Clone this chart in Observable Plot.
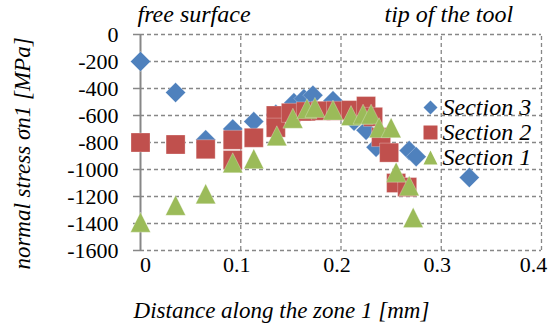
<!DOCTYPE html>
<html>
<head>
<meta charset="utf-8">
<script src="https://cdn.jsdelivr.net/npm/d3@7"></script>
<script src="https://cdn.jsdelivr.net/npm/@observablehq/plot@0.6"></script>
<style>
  html, body { margin: 0; padding: 0; background: #fff; }
  #chart svg { display: block; }
</style>
</head>
<body>
<div id="chart"></div>
<script>
// ---- data ----
const sec3X = [0, 0.035, 0.065, 0.092, 0.113, 0.135, 0.153, 0.163, 0.172, 0.192, 0.213, 0.225, 0.235, 0.268, 0.275, 0.328];
const sec3Y = [-200, -430, -780, -700, -645, -590, -505, -475, -450, -490, -640, -710, -835, -860, -905, -1060];

const sec2X = [0, 0.035, 0.065, 0.092, 0.092, 0.113, 0.135, 0.135, 0.15, 0.165, 0.18, 0.195, 0.21, 0.225, 0.232, 0.24, 0.248, 0.255, 0.266];
const sec2Y = [-800, -815, -850, -780, -930, -765, -600, -690, -580, -570, -565, -565, -560, -530, -610, -760, -875, -1100, -1130];

const sec1X = [0, 0.035, 0.065, 0.092, 0.113, 0.136, 0.152, 0.166, 0.174, 0.192, 0.21, 0.222, 0.23, 0.238, 0.25, 0.255, 0.268, 0.272];
const sec1Y = [-1390, -1265, -1180, -950, -920, -750, -620, -550, -540, -560, -600, -590, -590, -690, -690, -1020, -1120, -1355];

const seriesNames = ["Section 3", "Section 2", "Section 1"];
const seriesColors = ["#4F81BD", "#C0504D", "#9BBB59"];

const xTicks = [0, 0.1, 0.2, 0.3, 0.4];
const yTicks = [0, -200, -400, -600, -800, -1000, -1200, -1400, -1600];

const xTitle = "Distance along the zone 1 [mm]";
const yTitle = "normal stress \u03C3n1 [MPa]";
const noteLeft = "free surface";
const noteRight = "tip of the tool";

// ---- Excel-like marker symbols ----
const diamond = { draw(ctx, size) { const r = Math.sqrt(size / Math.PI); ctx.moveTo(0, -r); ctx.lineTo(r, 0); ctx.lineTo(0, r); ctx.lineTo(-r, 0); ctx.closePath(); } };
const square = { draw(ctx, size) { const r = Math.sqrt(size / Math.PI); ctx.rect(-r, -r, 2 * r, 2 * r); } };
const triangle = { draw(ctx, size) { const r = Math.sqrt(size / Math.PI); ctx.moveTo(0, -r); ctx.lineTo(r, r); ctx.lineTo(-r, r); ctx.closePath(); } };
const symbols = [diamond, square, triangle];
const sizes = [10, 9.5, 10];

const toRows = (xs, ys) => xs.map((x, i) => ({ x, y: ys[i] }));
const sec3 = toRows(sec3X, sec3Y);
const sec2 = toRows(sec2X, sec2Y);
const sec1 = toRows(sec1X, sec1Y);
const allSeries = [sec3, sec2, sec1];

const grid = "#878787";
const T = { fontFamily: "Liberation Serif", fill: "#000" };

const legendMarks = seriesNames.flatMap((name, i) => [
  Plot.dot([name], { frameAnchor: "top-left", dx: 290, dy: 73 + i * 25, symbol: symbols[i], r: 7, fill: seriesColors[i], stroke: "none" }),
  Plot.text([name], { ...T, frameAnchor: "top-left", dx: 302, dy: 73 + i * 25, text: d => d, textAnchor: "start", lineAnchor: "middle", fontSize: 24, fontStyle: "italic" })
]);

const chart = Plot.plot({
  width: 549,
  height: 329,
  marginLeft: 140,
  marginRight: 8,
  marginTop: 34,
  marginBottom: 79,
  style: "font-family: 'Liberation Serif', serif; font-size: 22px; background: #fff; color: #000;",
  x: { domain: [0, 0.4], axis: null },
  y: { domain: [-1600, 0] },
  marks: [
    Plot.ruleY(yTicks, { x1: 0, x2: 0.4, stroke: grid, strokeWidth: 1.3, strokeDasharray: "4,3" }),
    Plot.ruleX(xTicks.slice(1), { y1: -1600, y2: 0, stroke: grid, strokeWidth: 1.3, strokeDasharray: "4,3" }),
    Plot.ruleX([0], { y1: -1600, y2: 0, stroke: grid, strokeWidth: 2 }),
    Plot.axisY({ ticks: yTicks, tickSize: 7, tickPadding: 15, stroke: grid, strokeWidth: 1.5, tickFormat: d => String(d), label: null, fontSize: 22, ...T }),
    Plot.text(xTicks.slice(0, 1), { ...T, x: d => d, frameAnchor: "bottom", dx: 5, dy: 14, text: d => String(d), lineAnchor: "middle", fontSize: 22 }),
    Plot.text(xTicks.slice(1, 4), { ...T, x: d => d, frameAnchor: "bottom", dx: -4, dy: 14, text: d => String(d), lineAnchor: "middle", fontSize: 22 }),
    Plot.text(xTicks.slice(4), { ...T, x: d => d, frameAnchor: "bottom", dx: -8, dy: 14, text: d => String(d), lineAnchor: "middle", fontSize: 22 }),
    ...allSeries.map((s, i) => Plot.dot(s, { x: "x", y: "y", symbol: () => symbols[i], r: sizes[i], fill: seriesColors[i], stroke: "#fff", strokeOpacity: 0.35, strokeWidth: 0.8 })),
    ...legendMarks,
    Plot.text([yTitle], { ...T, frameAnchor: "left", dx: -118, dy: 11, rotate: -90, text: d => d, textAnchor: "middle", lineAnchor: "middle", fontSize: 23, fontStyle: "italic" }),
    Plot.text([xTitle], { ...T, frameAnchor: "bottom-left", dx: 141, dy: 60, text: d => d, textAnchor: "middle", lineAnchor: "middle", fontSize: 23, fontStyle: "italic" }),
    Plot.text([noteLeft], { ...T, frameAnchor: "top-left", dx: -3, dy: -20, text: d => d, textAnchor: "start", lineAnchor: "middle", fontSize: 24, fontStyle: "italic" }),
    Plot.text([noteRight], { ...T, frameAnchor: "top-left", dx: 244, dy: -20, text: d => d, textAnchor: "start", lineAnchor: "middle", fontSize: 24, fontStyle: "italic" })
  ]
});
document.getElementById("chart").appendChild(chart);
</script>
</body>
</html>
